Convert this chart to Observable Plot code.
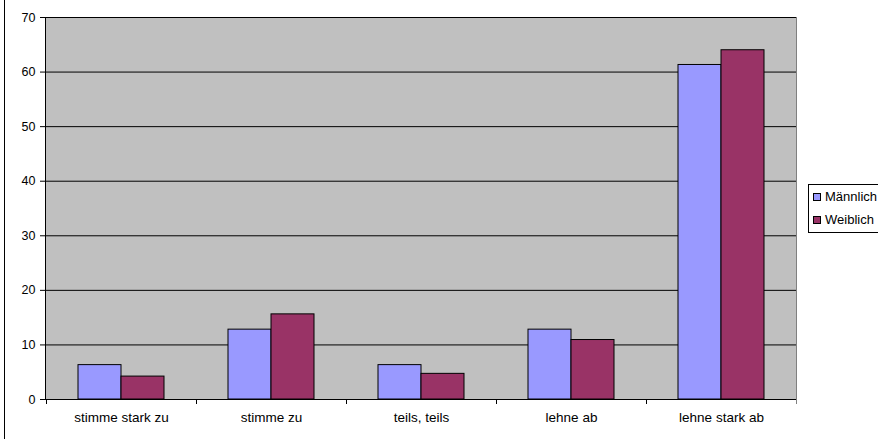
<!DOCTYPE html>
<html>
<head>
<meta charset="utf-8">
<script src="https://cdn.jsdelivr.net/npm/d3@7"></script>
<script src="https://cdn.jsdelivr.net/npm/@observablehq/plot@0.6"></script>
<style>
  html, body { margin: 0; padding: 0; background: #fff; overflow: hidden; }
  #wrap { position: relative; width: 878px; height: 439px; font-family: "Liberation Sans", Arial, sans-serif; }
  #border { position: absolute; left: 4px; top: 0; width: 0; height: 439px; border-left: 1px solid #000; }
  #legend { position: absolute; left: 808px; top: 184px; width: 100px; height: 47px; border: 1px solid #000; background: #fff; font-size: 13px; }
  .item { position: absolute; left: 4px; height: 14px; line-height: 14px; white-space: nowrap; }
  .sw { display: inline-block; width: 6px; height: 6px; border: 1px solid #000; margin-right: 4px; vertical-align: 0px; }
</style>
</head>
<body>
<div id="wrap">
  <div id="chart"></div>
  <div id="border"></div>
  <div id="legend"></div>
</div>
<script>
const categories = ["stimme stark zu", "stimme zu", "teils, teils", "lehne ab", "lehne stark ab"];
const series = ["Männlich", "Weiblich"];
const maennlich = [6.3, 12.8, 6.3, 12.8, 61.3];
const weiblich = [4.2, 15.6, 4.7, 10.9, 64.0];
const yTicks = [0, 10, 20, 30, 40, 50, 60, 70];
const colors = ["#9999FF", "#993366"];

const rowsM = categories.map((c, i) => ({category: c, sex: series[0], value: maennlich[i]}));
const rowsW = categories.map((c, i) => ({category: c, sex: series[1], value: weiblich[i]}));

const chart = Plot.plot({
  width: 878,
  height: 439,
  marginLeft: 45,
  marginRight: 82,
  marginTop: 17,
  marginBottom: 40,
  style: {fontFamily: "'Liberation Sans', Arial, sans-serif", fontSize: "13px", color: "#000", background: "transparent"},
  x: {domain: categories, padding: 0, label: null},
  y: {domain: [0, 70], label: null},
  marks: [
    Plot.frame({fill: "#C0C0C0", stroke: "#808080"}),
    Plot.ruleY(yTicks, {stroke: "#000", strokeWidth: 1}),
    Plot.barY(rowsM, {x: "category", y: "value", fill: colors[0], stroke: "#000", strokeWidth: 1, insetLeft: 32, insetRight: 75}),
    Plot.barY(rowsW, {x: "category", y: "value", fill: colors[1], stroke: "#000", strokeWidth: 1, insetLeft: 75, insetRight: 32}),
    Plot.frame({anchor: "left", stroke: "#000"}),
    Plot.ruleX(categories, {x: d => d, dx: -75, y1: 0, y2: 0, insetBottom: -5, stroke: "#000"}),
    Plot.ruleX(categories.slice(-1), {x: d => d, dx: 75, y1: 0, y2: 0, insetBottom: -5, stroke: "#808080"}),
    Plot.ruleY([0], {stroke: "#000"}),
    Plot.axisY({ticks: yTicks, tickSize: 5, tickPadding: 5, tickFormat: d => String(d), label: null, fontSize: 12.5}),
    Plot.axisX({tickSize: 0, tickPadding: 13, label: null, fontSize: 13.5})
  ]
});
document.getElementById("chart").appendChild(chart);

const legend = document.getElementById("legend");
series.forEach((s, i) => {
  const d = document.createElement("div");
  d.className = "item";
  d.style.top = (5 + i * 23) + "px";
  d.innerHTML = `<span class="sw" style="background:${colors[i]}"></span>${s}`;
  legend.appendChild(d);
});
</script>
</body>
</html>
